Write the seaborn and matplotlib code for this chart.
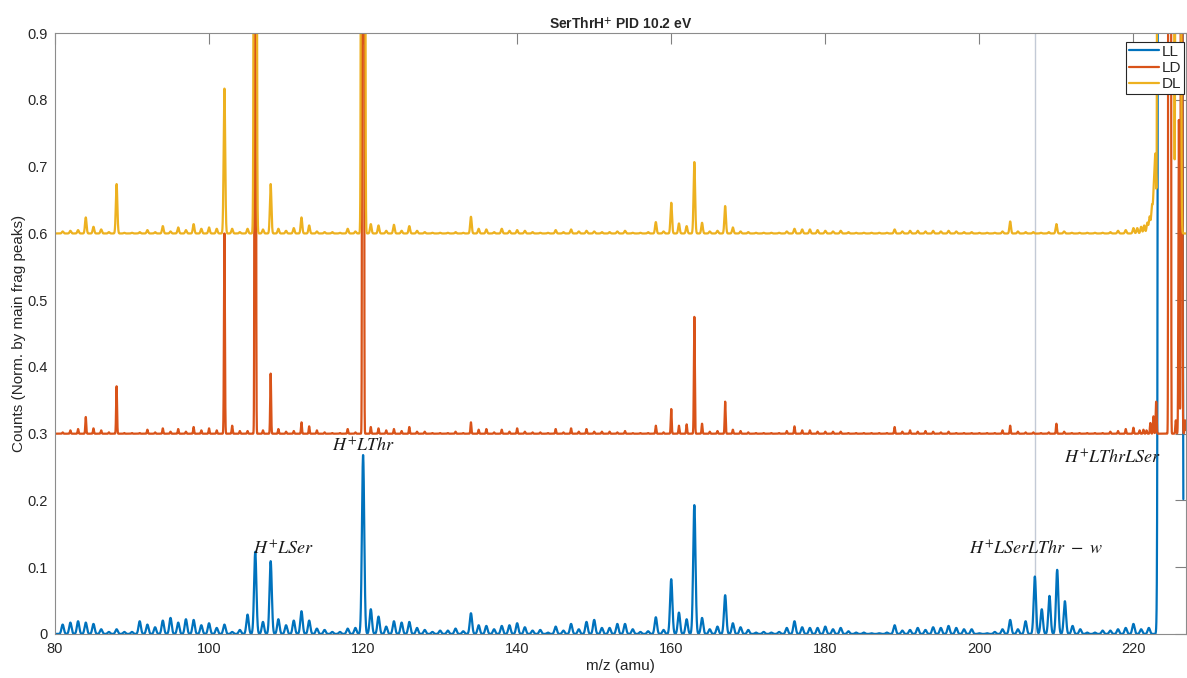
import numpy as np
import pandas as pd
import seaborn as sns
import matplotlib.pyplot as plt

# peak centres (m/z) and heights, one pair of lists per sample
ll_mz = [81, 82, 83, 84, 85, 86, 87, 88, 89, 90, 91, 92, 93, 94, 95, 96, 97, 98, 99, 100,
         101, 102, 103, 104, 105, 106, 107, 108, 109, 110, 111, 112, 113, 114, 115, 116, 117, 118, 119, 120,
         121, 122, 123, 124, 125, 126, 127, 128, 129, 130, 131, 132, 133, 134, 135, 136, 137, 138, 139, 140,
         141, 142, 143, 144, 145, 146, 147, 148, 149, 150, 151, 152, 153, 154, 155, 156, 157, 158, 159, 160,
         161, 162, 163, 164, 165, 166, 167, 168, 169, 170, 171, 172, 173, 174, 175, 176, 177, 178, 179, 180,
         181, 182, 183, 184, 185, 186, 187, 188, 189, 190, 191, 192, 193, 194, 195, 196, 197, 198, 199, 200,
         201, 202, 203, 204, 205, 206, 207.2, 208.1, 209.1, 210.1, 211.1, 212.1, 213.1, 214, 215, 216, 217, 218, 219, 220,
         221, 222, 223.56, 224.2, 224.9, 225.6, 226.1]
ll_height = [.014, .017, .019, .017, .015, .007, .003, .007, .003, .003, .019, .014, .010, .020, .024, .017, .022, .021, .013, .016,
             .009, .014, .003, .006, .029, .123, .018, .109, .022, .013, .020, .034, .020, .008, .006, .003, .003, .008, .009, .268,
             .037, .026, .011, .019, .017, .018, .009, .006, .003, .005, .005, .008, .004, .031, .013, .012, .007, .012, .013, .016,
             .010, .005, .006, .002, .011, .005, .015, .007, .018, .021, .009, .009, .015, .015, .007, .003, .004, .025, .006, .082,
             .032, .022, .193, .024, .007, .011, .058, .016, .010, .006, .002, .003, .002, .003, .009, .019, .010, .009, .009, .011,
             .007, .009, .004, .002, .002, .001, .001, .002, .013, .005, .006, .009, .006, .010, .009, .012, .009, .007, .007, .001,
             .001, .003, .007, .021, .007, .019, .086, .037, .057, .096, .049, .012, .007, .002, .002, .005, .005, .007, .009, .015,
             .007, .009, 35, 50, 80, 50, 5]

ld_mz = [81, 82, 83, 84, 85, 86, 87, 88, 89, 90, 91, 92, 93, 94, 95, 96, 97, 98, 99, 100,
         101, 102, 103, 104, 105, 106, 107, 108, 109, 110, 111, 112, 113, 114, 115, 116, 117, 118, 119, 120,
         121, 122, 123, 124, 125, 126, 127, 128, 129, 130, 131, 132, 133, 134, 135, 136, 137, 138, 139, 140,
         141, 142, 143, 144, 145, 146, 147, 148, 149, 150, 151, 152, 153, 154, 155, 156, 157, 158, 159, 160,
         161, 162, 163, 164, 165, 166, 167, 168, 169, 170, 171, 172, 173, 174, 175, 176, 177, 178, 179, 180,
         181, 182, 183, 184, 185, 186, 187, 188, 189, 190, 191, 192, 193, 194, 195, 196, 197, 198, 199, 200,
         201, 202, 203, 204, 205, 206, 207, 208, 209, 210, 211, 212, 213, 214, 215, 216, 217, 218, 219, 220,
         220.8, 221.3, 221.7, 222.2, 222.6, 222.95, 224.7, 225.5, 225.9, 226.25, 226.7]
ld_height = [.002, .005, .007, .025, .008, .005, .002, .071, .001, .001, .001, .006, .002, .008, .003, .007, .003, .010, .005, .008,
             .005, .30, .012, .004, .004, 3.2, .005, .09, .007, .003, .004, .017, .011, .005, .002, .001, .001, .007, .002, 12,
             .010, .008, .005, .007, .004, .010, .003, .003, .001, .001, .001, .003, .001, .017, .006, .007, .002, .006, .003, .008,
             .003, .002, .002, .001, .007, .002, .008, .003, .007, .003, .003, .003, .002, .004, .001, .001, .001, .012, .002, .037,
             .012, .014, .175, .015, .003, .004, .048, .006, .004, .002, .001, .001, .001, .001, .004, .011, .005, .005, .003, .003,
             .003, .003, .001, .001, .001, .001, .001, .001, .010, .003, .005, .003, .004, .003, .002, .003, .001, .001, .001, .001,
             .001, .001, .005, .012, .003, .002, .002, .001, .002, .015, .003, .001, .001, .001, .001, .001, .003, .004, .007, .009,
             .005, .006, .005, .016, .026, .048, 155, .02, .47, 4.4, .02]

dl_mz = [81, 82, 83, 84, 85, 86, 87, 88, 89, 90, 91, 92, 93, 94, 95, 96, 97, 98, 99, 100,
         101, 102, 103, 104, 105, 106, 107, 108, 109, 110, 111, 112, 113, 114, 115, 116, 117, 118, 119, 120,
         121, 122, 123, 124, 125, 126, 127, 128, 129, 130, 131, 132, 133, 134, 135, 136, 137, 138, 139, 140,
         141, 142, 143, 144, 145, 146, 147, 148, 149, 150, 151, 152, 153, 154, 155, 156, 157, 158, 159, 160,
         161, 162, 163, 164, 165, 166, 167, 168, 169, 170, 171, 172, 173, 174, 175, 176, 177, 178, 179, 180,
         181, 182, 183, 184, 185, 186, 187, 188, 189, 190, 191, 192, 193, 194, 195, 196, 197, 198, 199, 200,
         201, 202, 203, 204, 205, 206, 207, 208, 209, 210, 211, 212, 213, 214, 215, 216, 217, 218, 219, 220,
         220.5, 221, 221.4, 221.8, 222.1, 222.4, 222.65, 222.85, 223.4, 224.0, 224.6, 225.05, 225.65, 226.0]
dl_height = [.003, .004, .005, .024, .010, .006, .002, .074, .001, .001, .002, .005, .002, .011, .003, .009, .005, .014, .007, .009,
             .007, .217, .007, .002, .007, 5.3, .006, .074, .007, .004, .008, .024, .012, .003, .002, .002, .001, .007, .003, 50,
             .014, .012, .004, .013, .004, .011, .004, .002, .001, .001, .001, .002, .001, .025, .007, .006, .002, .007, .004, .005,
             .004, .002, .001, .001, .005, .002, .006, .003, .004, .003, .002, .002, .003, .004, .001, .001, .002, .017, .003, .046,
             .015, .011, .107, .016, .003, .004, .041, .009, .003, .002, .001, .001, .001, .001, .003, .007, .006, .006, .005, .004,
             .003, .004, .002, .001, .001, .001, .001, .001, .006, .003, .004, .004, .003, .004, .003, .004, .003, .002, .002, .001,
             .001, .001, .003, .018, .003, .002, .002, .001, .002, .014, .003, .001, .001, .001, .001, .001, .002, .004, .005, .008,
             .008, .010, .012, .016, .025, .040, .060, .110, 137, 50, 20, 5, 5, 3]

series_names = ["LL", "LD", "DL"]
series_offsets = [0.0, 0.3, 0.6]
series_end = [226.48, 226.8, 226.8]  # last recorded m/z of each trace
peak_widths = [0.15, 0.06, 0.10]  # gaussian sigma (amu) of each trace
colors = ["#0072BD", "#D95319", "#EDB120"]

mz_grid = np.arange(80, 226.8, 0.005)


def spectrum(centres, heights, sigma):
    c = np.asarray(centres)[None, :]
    h = np.asarray(heights)[None, :]
    return (h * np.exp(-((mz_grid[:, None] - c) ** 2) / (2 * sigma**2))).sum(axis=1)


frames = []
for name, centres, heights, off, sig, end in zip(
    series_names,
    [ll_mz, ld_mz, dl_mz],
    [ll_height, ld_height, dl_height],
    series_offsets,
    peak_widths,
    series_end,
):
    d = pd.DataFrame({"mz": mz_grid, "counts": spectrum(centres, heights, sig) + off, "series": name})
    frames.append(d[d["mz"] <= end])
df = pd.concat(frames, ignore_index=True)

sns.set_theme(style="white")
plt.rcParams["font.family"] = ["Liberation Sans", "DejaVu Sans"]
plt.rcParams["mathtext.fontset"] = "stix"

fig = plt.figure(figsize=(11.87, 6.78), dpi=100)
ax = fig.add_axes([0.0463, 0.065, 0.9527, 0.886])

ax.axvline(207.2, color="#c3cad6", linewidth=1, zorder=1)

sns.lineplot(
    data=df,
    x="mz",
    y="counts",
    hue="series",
    hue_order=series_names,
    palette=colors,
    estimator=None,
    errorbar=None,
    linewidth=1.6,
    ax=ax,
)

ax.set_xlim(80, 226.8)
ax.set_ylim(0, 0.9)
ax.set_xticks(range(80, 221, 20))
ax.set_yticks(np.arange(0, 0.91, 0.1))
ax.set_yticklabels(["0", "0.1", "0.2", "0.3", "0.4", "0.5", "0.6", "0.7", "0.8", "0.9"])
ax.tick_params(direction="in", length=8, width=0.8, color="#808080", labelcolor="#262626",
               labelsize=10.5, top=True, right=True)
ax.tick_params(axis="x", pad=6)
ax.tick_params(axis="y", pad=5)
for sp in ax.spines.values():
    sp.set_color("#8c8c8c")
    sp.set_linewidth(0.8)

ax.set_xlabel("m/z (amu)", fontsize=11, color="#262626", labelpad=2)
ax.set_ylabel("Counts (Norm. by main frag peaks)", fontsize=11, color="#262626", labelpad=1)
ax.set_title(r"SerThrH$^{\mathbf{+}}$ PID 10.2 eV", fontsize=10, fontweight="bold", pad=4)

note_kw = dict(fontsize=13, color="#1a1a1a", va="center", ha="left")
ax.text(105.7, 0.127, r"$H^{+}LSer$", **note_kw)
ax.text(116.0, 0.281, r"$H^{+}LThr$", **note_kw)
ax.text(198.7, 0.127, r"$H^{+}LSerLThr\ -\ w$", **note_kw)
ax.text(211.0, 0.263, r"$H^{+}LThrLSer$", **note_kw)

leg = ax.legend(
    title=None,
    loc="upper right",
    bbox_to_anchor=(0.9985, 0.986),
    fontsize=11,
    handlelength=2.0,
    handletextpad=0.15,
    labelspacing=0.15,
    borderpad=0.2,
    borderaxespad=0,
    fancybox=False,
    framealpha=1,
)
leg.get_frame().set_edgecolor("#262626")
leg.get_frame().set_linewidth(0.8)

fig.savefig("out.png", dpi=100)
